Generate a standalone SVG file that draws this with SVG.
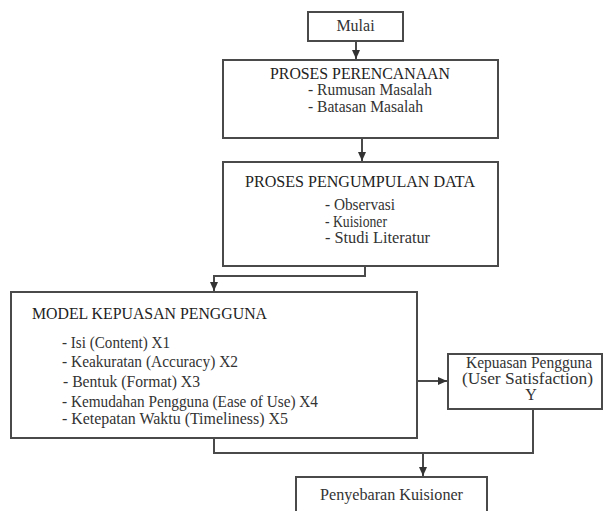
<svg xmlns="http://www.w3.org/2000/svg" width="604" height="511" viewBox="0 0 604 511">
<defs>
<marker id="arr" markerUnits="userSpaceOnUse" markerWidth="10" markerHeight="10" viewBox="0 0 10 10" refX="9" refY="5" orient="auto">
<path d="M0,1 L9,5 L0,9 Z" fill="#333"/>
</marker>
<style>
.box{fill:#fff;stroke:#4a4a4a;stroke-width:2}
.con{fill:none;stroke:#4a4a4a;stroke-width:2}
text{font-family:"Liberation Serif","Times New Roman",serif;fill:#333;font-size:16px}
.t{fill:#222}
</style>
</defs>
<rect width="604" height="511" fill="#fff"/>
<g id="connectors">
<line class="con" x1="356" y1="41" x2="356" y2="59" marker-end="url(#arr)"/>
<line class="con" x1="362" y1="138" x2="362" y2="161" marker-end="url(#arr)"/>
<polyline class="con" points="365,266 365,276 214,276 214,291" marker-end="url(#arr)"/>
<line class="con" x1="417" y1="381" x2="447" y2="381" marker-end="url(#arr)"/>
<polyline class="con" points="214,438 214,453 423,453 423,476" marker-end="url(#arr)"/>
<polyline class="con" points="533,409 533,453 423,453"/>
</g>
<g id="mulai">
<rect class="box" x="308" y="12" width="95" height="29"/>
<text x="355.5" y="31" text-anchor="middle" font-size="14">Mulai</text>
</g>
<g id="perencanaan">
<rect class="box" x="223" y="60" width="275" height="78"/>
<text class="t" x="270" y="79" textLength="180" lengthAdjust="spacingAndGlyphs">PROSES PERENCANAAN</text>
<text x="308" y="95" textLength="124" lengthAdjust="spacingAndGlyphs">- Rumusan Masalah</text>
<text x="308" y="112" textLength="115" lengthAdjust="spacingAndGlyphs">- Batasan Masalah</text>
</g>
<g id="pengumpulan">
<rect class="box" x="223" y="162" width="275" height="104"/>
<text class="t" x="245" y="187" textLength="230" lengthAdjust="spacingAndGlyphs">PROSES PENGUMPULAN DATA</text>
<text x="325" y="210" textLength="70" lengthAdjust="spacingAndGlyphs">- Observasi</text>
<text x="325" y="227" textLength="62" lengthAdjust="spacingAndGlyphs">- Kuisioner</text>
<text x="325" y="243" textLength="105" lengthAdjust="spacingAndGlyphs">- Studi Literatur</text>
</g>
<g id="model">
<rect class="box" x="11" y="292" width="406" height="146"/>
<text class="t" x="32" y="319" textLength="235" lengthAdjust="spacingAndGlyphs">MODEL KEPUASAN PENGGUNA</text>
<text x="62" y="348" textLength="108" lengthAdjust="spacingAndGlyphs">- Isi (Content) X1</text>
<text x="62" y="367" textLength="176" lengthAdjust="spacingAndGlyphs">- Keakuratan (Accuracy) X2</text>
<text x="63" y="387" textLength="137" lengthAdjust="spacingAndGlyphs">- Bentuk (Format) X3</text>
<text x="62" y="407" textLength="256" lengthAdjust="spacingAndGlyphs">- Kemudahan Pengguna (Ease of Use) X4</text>
<text x="62" y="424" textLength="226" lengthAdjust="spacingAndGlyphs">- Ketepatan Waktu (Timeliness) X5</text>
</g>
<g id="kepuasan">
<rect class="box" x="448" y="354" width="154" height="55"/>
<text x="466" y="368" textLength="126" lengthAdjust="spacingAndGlyphs">Kepuasan Pengguna</text>
<text x="462" y="384" textLength="131" lengthAdjust="spacingAndGlyphs">(User Satisfaction)</text>
<text x="531" y="400" text-anchor="middle">Y</text>
</g>
<g id="penyebaran">
<rect class="box" x="296" y="477" width="191" height="50"/>
<text x="320" y="500" textLength="143" lengthAdjust="spacingAndGlyphs">Penyebaran Kuisioner</text>
</g>
</svg>
